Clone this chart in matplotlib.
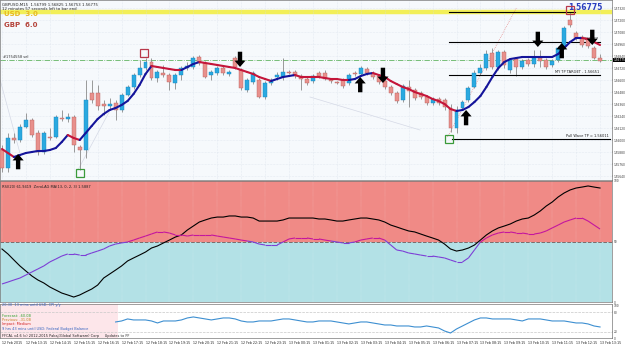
import numpy as np
import matplotlib.pyplot as plt
from matplotlib.collections import LineCollection

# GBPUSD M15 candles
opens = [1.5590, 1.5572, 1.5602, 1.5600, 1.5613, 1.5620, 1.5607, 1.5588, 1.5603, 1.5603,
         1.5622, 1.5621, 1.5623, 1.5593, 1.5590, 1.5647, 1.5647, 1.5636, 1.5634, 1.5637,
         1.5630, 1.5645, 1.5653, 1.5665, 1.5672, 1.5678, 1.5662, 1.5667, 1.5665, 1.5657,
         1.5665, 1.5672, 1.5673, 1.5683, 1.5677, 1.5665, 1.5667, 1.5672, 1.5666, 1.5682,
         1.5670, 1.5650, 1.5658, 1.5660, 1.5643, 1.5657, 1.5663, 1.5663, 1.5668, 1.5668,
         1.5664, 1.5661, 1.5659, 1.5667, 1.5667, 1.5660, 1.5658, 1.5660, 1.5657, 1.5667,
         1.5666, 1.5671, 1.5667, 1.5664, 1.5659, 1.5653, 1.5647, 1.5640, 1.5653, 1.5650,
         1.5647, 1.5643, 1.5637, 1.5641, 1.5640, 1.5632, 1.5612, 1.5632, 1.5640, 1.5653,
         1.5667, 1.5672, 1.5687, 1.5673, 1.5688, 1.5670, 1.5681, 1.5673, 1.5680, 1.5676,
         1.5682, 1.5680, 1.5675, 1.5680, 1.5693, 1.5720, 1.5707, 1.5703, 1.5701, 1.5692,
         1.5682]
closes = [1.5572, 1.5602, 1.5600, 1.5613, 1.5620, 1.5605, 1.5588, 1.5607, 1.5602, 1.5623,
          1.5621, 1.5623, 1.5595, 1.5590, 1.5640, 1.5640, 1.5634, 1.5634, 1.5636, 1.5630,
          1.5645, 1.5653, 1.5665, 1.5672, 1.5678, 1.5662, 1.5668, 1.5665, 1.5658, 1.5665,
          1.5672, 1.5674, 1.5682, 1.5677, 1.5663, 1.5668, 1.5672, 1.5667, 1.5668, 1.5673,
          1.5652, 1.5660, 1.5667, 1.5643, 1.5657, 1.5660, 1.5665, 1.5668, 1.5667, 1.5664,
          1.5661, 1.5657, 1.5664, 1.5664, 1.5661, 1.5659, 1.5657, 1.5654, 1.5665, 1.5666,
          1.5672, 1.5667, 1.5663, 1.5658, 1.5653, 1.5647, 1.5639, 1.5654, 1.5649, 1.5642,
          1.5643, 1.5637, 1.5641, 1.5637, 1.5633, 1.5612, 1.5630, 1.5638, 1.5652, 1.5667,
          1.5672, 1.5686, 1.5673, 1.5688, 1.5675, 1.5680, 1.5673, 1.5679, 1.5676, 1.5682,
          1.5679, 1.5673, 1.5679, 1.5692, 1.5712, 1.5715, 1.5702, 1.5695, 1.5694, 1.5682,
          1.5679]
highs = [1.5595, 1.5607, 1.5607, 1.5616, 1.5627, 1.5622, 1.5610, 1.5609, 1.5612, 1.5625,
         1.5630, 1.5627, 1.5625, 1.5595, 1.5660, 1.5660, 1.5655, 1.5640, 1.5642, 1.5640,
         1.5647, 1.5655, 1.5667, 1.5680, 1.5682, 1.5682, 1.5670, 1.5675, 1.5667, 1.5667,
         1.5674, 1.5678, 1.5684, 1.5685, 1.5679, 1.5670, 1.5674, 1.5674, 1.5670, 1.5684,
         1.5672, 1.5662, 1.5669, 1.5662, 1.5659, 1.5662, 1.5668, 1.5682, 1.5670, 1.5670,
         1.5666, 1.5663, 1.5666, 1.5669, 1.5670, 1.5662, 1.5659, 1.5662, 1.5667, 1.5669,
         1.5674, 1.5673, 1.5669, 1.5666, 1.5661, 1.5655, 1.5649, 1.5656, 1.5660, 1.5652,
         1.5649, 1.5645, 1.5643, 1.5643, 1.5642, 1.5636, 1.5634, 1.5640, 1.5654, 1.5670,
         1.5676, 1.5690, 1.5692, 1.5690, 1.5690, 1.5682, 1.5683, 1.5681, 1.5682, 1.5690,
         1.5690, 1.5682, 1.5681, 1.5694, 1.5714, 1.5728, 1.5709, 1.5705, 1.5703, 1.5694,
         1.5686]
lows = [1.5568, 1.5568, 1.5597, 1.5598, 1.5612, 1.5603, 1.5585, 1.5586, 1.5600, 1.5602,
        1.5619, 1.5618, 1.5588, 1.5570, 1.5582, 1.5637, 1.5630, 1.5625, 1.5630, 1.5620,
        1.5628, 1.5644, 1.5651, 1.5663, 1.5670, 1.5660, 1.5658, 1.5663, 1.5650, 1.5651,
        1.5660, 1.5670, 1.5671, 1.5675, 1.5662, 1.5660, 1.5665, 1.5665, 1.5664, 1.5671,
        1.5650, 1.5648, 1.5656, 1.5642, 1.5641, 1.5655, 1.5660, 1.5660, 1.5666, 1.5662,
        1.5650, 1.5655, 1.5657, 1.5662, 1.5660, 1.5657, 1.5656, 1.5652, 1.5655, 1.5664,
        1.5664, 1.5665, 1.5661, 1.5656, 1.5651, 1.5645, 1.5637, 1.5638, 1.5633, 1.5640,
        1.5641, 1.5635, 1.5635, 1.5635, 1.5630, 1.5608, 1.5607, 1.5630, 1.5638, 1.5652,
        1.5665, 1.5670, 1.5671, 1.5670, 1.5672, 1.5667, 1.5664, 1.5671, 1.5674, 1.5673,
        1.5673, 1.5671, 1.5673, 1.5678, 1.5691, 1.5713, 1.5700, 1.5693, 1.5692, 1.5681,
        1.5678]
# smoothed MA (coloured by slope)
ma = [1.5591, 1.5587, 1.5583, 1.5585, 1.5587, 1.5588, 1.5589, 1.5589, 1.5590, 1.5592,
      1.5598, 1.5605, 1.5602, 1.5600, 1.5607, 1.5614, 1.5621, 1.5626, 1.5630, 1.5632,
      1.5635, 1.5639, 1.5646, 1.5655, 1.5666, 1.5674, 1.5673, 1.5672, 1.5671, 1.5670,
      1.5670, 1.5673, 1.5676, 1.5678, 1.5677, 1.5676, 1.5675, 1.5674, 1.5673, 1.5672,
      1.5670, 1.5668, 1.5666, 1.5663, 1.5661, 1.5659, 1.5661, 1.5663, 1.5664, 1.5665,
      1.5663, 1.5663, 1.5663, 1.5663, 1.5662, 1.5661, 1.5661, 1.5660, 1.5660, 1.5661,
      1.5664, 1.5666, 1.5667, 1.5665, 1.5663, 1.5659, 1.5656, 1.5653, 1.5651, 1.5648,
      1.5646, 1.5644, 1.5641, 1.5639, 1.5636, 1.5631, 1.5629, 1.5630, 1.5633, 1.5638,
      1.5644, 1.5653, 1.5663, 1.5672, 1.5678, 1.5681, 1.5682, 1.5683, 1.5683, 1.5683,
      1.5683, 1.5683, 1.5683, 1.5686, 1.5692, 1.5698, 1.5702, 1.5702, 1.5701, 1.5698,
      1.5695]
# RSI(20) and its ZeroLAG MA
rsi = [43.8, 39.7, 34.7, 29.8, 25.6, 21.5, 18.2, 15.7, 12.4, 9.9,
       7.4, 5.8, 4.1, 5.8, 8.3, 10.7, 14.0, 19.8, 23.1, 26.4,
       29.8, 33.9, 36.4, 38.8, 41.3, 44.6, 46.3, 48.8, 51.2, 53.7,
       55.4, 59.5, 62.8, 66.1, 67.8, 69.4, 70.2, 70.2, 71.1, 71.1,
       70.2, 70.2, 69.4, 66.9, 66.9, 66.9, 66.9, 67.8, 69.4, 69.4,
       69.4, 69.4, 69.4, 68.6, 68.6, 67.8, 66.9, 66.9, 67.8, 68.6,
       69.4, 69.4, 68.6, 67.8, 66.1, 63.6, 62.0, 60.3, 58.7, 57.9,
       56.2, 54.5, 52.9, 51.2, 47.9, 43.8, 42.1, 43.0, 44.6, 47.1,
       51.2, 55.4, 58.7, 61.2, 62.8, 64.5, 66.9, 68.6, 69.4, 71.9,
       75.2, 79.3, 82.6, 86.8, 90.1, 92.6, 94.2, 95.0, 95.9, 95.0,
       94.2]
rsi_ma = [14.9, 16.5, 18.2, 19.8, 22.3, 24.8, 27.3, 29.8, 33.1, 35.5,
          38.0, 39.7, 39.7, 38.8, 38.8, 40.5, 42.1, 43.8, 46.3, 47.9,
          48.8, 49.6, 51.2, 52.9, 54.5, 56.2, 57.9, 57.9, 57.0, 55.4,
          55.4, 54.5, 55.4, 55.4, 55.4, 55.4, 54.5, 53.7, 52.9, 52.1,
          51.2, 50.4, 49.6, 47.9, 47.1, 47.1, 47.1, 49.6, 52.1, 52.9,
          52.9, 52.9, 52.1, 52.1, 51.2, 50.4, 49.6, 48.8, 48.8, 49.6,
          51.2, 52.1, 52.9, 52.9, 51.2, 47.1, 43.0, 42.1, 40.5, 39.7,
          38.8, 38.0, 38.0, 37.2, 36.4, 34.7, 33.1, 33.1, 36.4, 43.0,
          49.6, 52.9, 55.4, 57.0, 57.9, 57.9, 57.0, 57.0, 56.2, 56.2,
          57.0, 58.7, 61.2, 63.6, 66.1, 67.8, 69.4, 69.4, 66.9, 63.6,
          60.3]
# bottom panel line, starts at bar 19
ff_start = 19
ff_line = [50.0, 53.1, 59.4, 56.3, 56.3, 56.3, 53.1, 46.9, 53.1, 53.1,
           53.1, 56.3, 62.5, 65.6, 62.5, 59.4, 56.3, 59.4, 62.5, 62.5,
           59.4, 53.1, 50.0, 50.0, 53.1, 53.1, 53.1, 56.3, 59.4, 59.4,
           56.3, 53.1, 50.0, 50.0, 53.1, 53.1, 53.1, 50.0, 46.9, 43.8,
           46.9, 50.0, 50.0, 46.9, 43.8, 40.6, 40.6, 37.5, 37.5, 37.5,
           34.4, 34.4, 37.5, 34.4, 31.3, 21.9, 15.6, 28.1, 37.5, 46.9,
           56.3, 62.5, 62.5, 59.4, 59.4, 59.4, 59.4, 56.3, 53.1, 59.4,
           59.4, 59.4, 56.3, 53.1, 53.1, 53.1, 50.0, 46.9, 46.9, 43.8,
           37.5, 34.4]

up_idx = [2.7, 59.9, 77.6, 93.6]
up_price = [1.5586, 1.5663, 1.5630, 1.5697]
down_idx = [39.8, 63.7, 89.6, 98.7]
down_price = [1.5673, 1.5657, 1.5693, 1.5695]
red_sq_idx = [23.8, 95.0]
red_sq_price = [1.5687, 1.5730]
green_sq_idx = [13.0, 74.8]
green_sq_price = [1.5567, 1.5601]
level_price = [1.5728, 1.5698, 1.5665, 1.5601]
level_start = [74.7, 74.7, 74.7, 75.3]
level_end = [95.8, 100.0, 100.0, 101.7]
level_text = ['', '1.56977', 'MY TP TARGET - 1.56651', 'Pull Wave TP = 1.56011']
bid = 1.5680
yellow_level = 1.5728

hours = ['2015'] + ['%02d:15' % h for h in range(13, 24)] + ['%02d:15' % h for h in range(0, 14)]
days = ['12 Feb'] * 12 + ['13 Feb'] * 14
xlabels = [d + ' ' + h for d, h in zip(days, hours)]

n = len(closes)
x = np.arange(n)
o = np.array(opens); c = np.array(closes)

fig = plt.figure(figsize=(6.25, 3.48), dpi=100)
W = 612 / 625
ax1 = fig.add_axes([0, 1 - 180 / 348, W, 180 / 348])
ax2 = fig.add_axes([0, 1 - 302 / 348, W, 121 / 348])
ax3 = fig.add_axes([0, 1 - 338 / 348, W, 34 / 348])
xl = (-0.33, 102.0)
tick_pos = np.arange(len(xlabels)) * 4

for ax in (ax1, ax2, ax3):
    ax.set_xlim(*xl)
    ax.yaxis.tick_right()
    ax.tick_params(axis='y', labelsize=2.1, length=1, width=0.3, pad=0.5, colors='#333')
    ax.tick_params(axis='x', length=0)
    ax.set_xticks(tick_pos)
    ax.set_xticklabels([])
    for s in ax.spines.values():
        s.set_color('#777')
        s.set_linewidth(0.5)

# ---- main price panel ----
ax1.set_facecolor('#f6f9fc')
ax1.set_ylim(1.5560, 1.5740)
pt = np.arange(1.5732, 1.5560, -0.0012)
ax1.set_yticks(pt)
ax1.set_yticklabels(['%.5f' % p for p in pt])
ax1.grid(True, color='#d6dfe9', lw=0.4, ls=':')

ax1.axhline(yellow_level, color='#f2ee3c', lw=3.2, alpha=0.85, zorder=1)
ax1.axhline(bid, color='#62b462', lw=0.6, ls='-.', zorder=1)
ax1.text(0.2, bid + 0.0001, '#1754558 sel', fontsize=2.6, color='#333', va='bottom')

# faint trend lines
ax1.plot([74.5, 86.0], [1.5603, 1.5732], color='#e07070', lw=0.5, ls=':', zorder=1)
for xa, pa, xb, pb in [(51.5, 1.5643, 69.9, 1.5610), (-0.3, 1.5660, 3.0, 1.5587), (12.7, 1.5570, 18.1, 1.5630)]:
    ax1.plot([xa, xb], [pa, pb], color='#d5d9e6', lw=0.5, zorder=1)

# candles
up = c >= o
ax1.vlines(x, lows, highs, color='#8a8a8a', lw=0.6, zorder=2)
body_h = np.maximum(np.abs(c - o), 0.00012)
ax1.bar(x[up], body_h[up], bottom=np.minimum(o, c)[up], width=0.66,
        color='#2aa9e0', edgecolor='#1784bd', lw=0.3, zorder=3)
ax1.bar(x[~up], body_h[~up], bottom=np.minimum(o, c)[~up], width=0.66,
        color='#e8908c', edgecolor='#b8625e', lw=0.3, zorder=3)

# moving average coloured by slope
m = np.array(ma)
cols = []
prev = '#c4163a'
for d in np.diff(m):
    if d > 1e-7:
        prev = '#14149a'
    elif d < -1e-7:
        prev = '#c4163a'
    cols.append(prev)
segs = [[(x[i], m[i]), (x[i + 1], m[i + 1])] for i in range(n - 1)]
ax1.add_collection(LineCollection(segs, colors=cols, lw=1.5, zorder=4, capstyle='round'))

# horizontal levels
for p, a, b, t in zip(level_price, level_start, level_end, level_text):
    ax1.plot([a, b], [p, p], color='k', lw=0.8, zorder=2)
    if t:
        ax1.text(b - 0.2, p + 0.00008, t, fontsize=2.6, ha='right', va='bottom', color='#222')

# signal arrows (shaft + head)
arw = dict(arrowstyle='simple,head_width=1.9,head_length=1.1,tail_width=0.75',
           mutation_scale=4.2, color='k', lw=0, shrinkA=0, shrinkB=0)
for xi, p in zip(up_idx, up_price):
    ax1.annotate('', xy=(xi, p), xytext=(0, -11), textcoords='offset points', arrowprops=arw, zorder=5)
for xi, p in zip(down_idx, down_price):
    ax1.annotate('', xy=(xi, p), xytext=(0, 11), textcoords='offset points', arrowprops=arw, zorder=5)

ax1.plot(red_sq_idx, red_sq_price, 's', ms=5.5, mfc='none', mec='#b8384a', mew=0.9, zorder=5)
ax1.plot(green_sq_idx, green_sq_price, 's', ms=5.5, mfc='none', mec='#3a9a3a', mew=0.9, zorder=5)

ax1.text(0.003, 0.985, 'GBPUSD,M15  1.56799 1.56825 1.56753 1.56775', transform=ax1.transAxes,
         fontsize=2.8, va='top', color='#222')
ax1.text(0.003, 0.962, '12 minutes 57 seconds left to bar end', transform=ax1.transAxes,
         fontsize=2.8, va='top', color='#222')
ax1.text(0.006, 0.922, 'USD  3.0', transform=ax1.transAxes, fontsize=5, fontweight='bold',
         va='center', color='#e8b923')
ax1.text(0.006, 0.861, 'GBP  6.0', transform=ax1.transAxes, fontsize=5, fontweight='bold',
         va='center', color='#b5443b')
ax1.text(0.985, 0.985, '1.56775', transform=ax1.transAxes, fontsize=5.5, fontweight='bold',
         ha='right', va='top', color='#2b3fbf')
ax1.text(1.002, bid, '1.56775', transform=ax1.get_yaxis_transform(), fontsize=2.1, color='white',
         va='center', ha='left', bbox=dict(boxstyle='square,pad=0.1', fc='k', ec='none'))

# ---- RSI panel ----
ax2.set_ylim(0, 100)
ax2.axhspan(50, 100, color='#f08a86', lw=0)
ax2.axhspan(0, 50, color='#b3e1e6', lw=0)
ax2.axhline(50, color='#7d6a6a', lw=0.7, ls='--')
ax2.grid(True, axis='x', color='#ffffff', lw=0.3, ls=':', alpha=0.6)
ax2.set_yticks([0, 50, 100])
ax2.plot(x, rsi, color='k', lw=0.8, zorder=3)
r = np.array(rsi_ma)
rsegs = [[(x[i], r[i]), (x[i + 1], r[i + 1])] for i in range(n - 1)]
rcols = ['#c4169e' if (r[i] + r[i + 1]) / 2 > 50 else '#7d3fd6' for i in range(n - 1)]
ax2.add_collection(LineCollection(rsegs, colors=rcols, lw=0.8, zorder=3))
ax2.text(0.004, 0.97, 'RSI(20) 61.9419  ZeroLAG MA(13, 0, 2, 3) 1.5887', transform=ax2.transAxes,
         fontsize=2.6, va='top', color='#222')

# ---- calendar panel ----
ax3.set_facecolor('white')
ax3.set_ylim(0, 106)
ax3.set_yticks([0, 20, 80, 100])
ax3.axvspan(xl[0], 19.4, color='#fde6ea', lw=0)
for lv in (20, 80):
    ax3.axhline(lv, color='#c8c8c8', lw=0.5, ls='--')
fx = np.arange(ff_start, ff_start + len(ff_line))
ax3.plot(fx, ff_line, color='#3d8fd1', lw=0.8)
cal = [(0.97, '20:30  13 mins until USD: CPI y/y', '#3060c0'),
       (0.65, 'Forecast: -60.0B', '#2ca02c'),
       (0.53, 'Previous: -31.0B', '#c08020'),
       (0.40, 'Impact: Medium', '#d02020'),
       (0.265, '9 hrs 43 mins until USD: Federal Budget Balance', '#3060c0'),
       (0.06, 'FFCAL v4.6 (c) 2012-2015 Pakaj(Global Software) Corp     Updates to FF', '#222')]
for yy, t, col in cal:
    ax3.text(0.004, yy, t, transform=ax3.transAxes, fontsize=2.5, va='center', color=col)

ax3.set_xticklabels(xlabels, fontsize=2.3, ha='left', color='#222')
ax3.tick_params(axis='x', pad=2)

fig.savefig('out.png', dpi=100, facecolor='white')
